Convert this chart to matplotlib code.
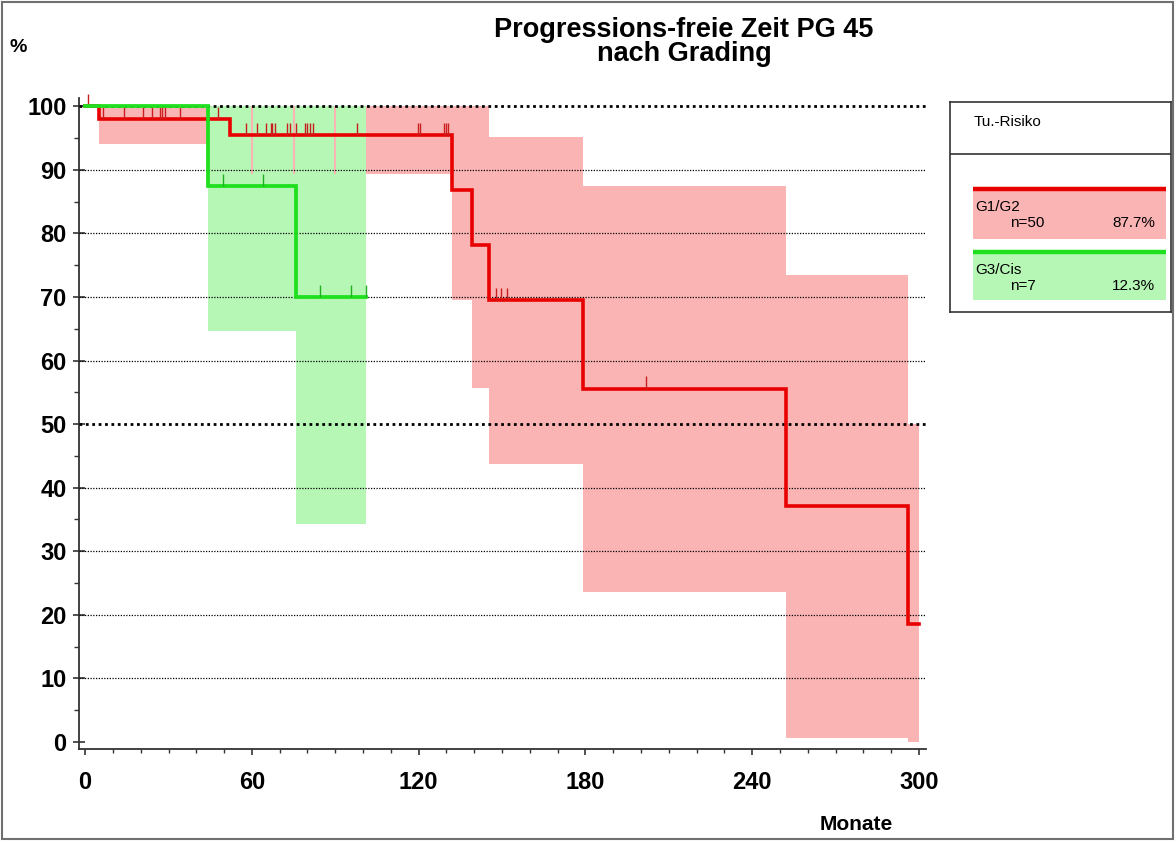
import numpy as np
import matplotlib
matplotlib.use("Agg")
import matplotlib.pyplot as plt
from matplotlib.patches import Rectangle
from matplotlib.ticker import MultipleLocator

plt.rcParams['font.family'] = ['Liberation Sans', 'DejaVu Sans']

# ---------------- data ----------------
title_line1 = "Progressions-freie Zeit PG 45"
title_line2 = "nach Grading"
x_ticks = [0, 60, 120, 180, 240, 300]
y_ticks = [0, 10, 20, 30, 40, 50, 60, 70, 80, 90, 100]

# G1/G2 Kaplan-Meier steps (months, %)
red_t = [0, 5, 52.1, 132, 139, 145.3, 179, 252.1, 296.2, 300]
red_s = [100, 98, 95.5, 86.9, 78.1, 69.5, 55.6, 37.1, 18.6, 18.6]
# confidence band steps
red_ci_t = [5, 52.1, 132, 139, 145.3, 179, 252.1, 296.2, 300]
red_ci_lo = [94.1, 89.3, 69.5, 55.7, 43.8, 23.6, 0.6, 0.0]
red_ci_hi = [100, 100, 100, 100, 95.1, 87.4, 73.4, 50.0]
red_censor = [1, 6.6, 14.0, 20.9, 24.0, 26.9, 27.7, 28.7, 34.1, 47.9,
              57.9, 61.9, 65.0, 66.7, 67.4, 68.4, 72.7, 73.7, 75.8, 79.0,
              79.9, 80.9, 81.8, 97.8, 119.8, 120.6, 129.0, 129.7, 130.5,
              147.9, 149.7, 151.7, 201.8]
red_band_marks = [60, 75, 90]

# G3/Cis Kaplan-Meier steps
green_t = [0, 44.3, 76, 101.2]
green_s = [100, 87.5, 70, 70]
green_ci_t = [44.3, 76, 101.2]
green_ci_lo = [64.6, 34.3]
green_ci_hi = [100, 100]
green_censor = [49.7, 64.1, 84.4, 95.8, 100.9]

legend_groups = ["G1/G2", "G3/Cis"]
legend_n = ["n=50", "n=7"]
legend_pct = ["87.7%", "12.3%"]

# ---------------- style ----------------
RED = '#e80000'
PINK = '#fbb4b4'
GREEN = '#1ee01e'
LGREEN = '#b6f7b6'
RED_C = '#c81e1e'
GREEN_C = '#20b020'

W, H = 1176, 842
fig = plt.figure(figsize=(W / 100, H / 100), dpi=100)
fig.patch.set_facecolor('white')

def fx(px):
    return px / W

def fy(py):
    return 1 - py / H

ax = fig.add_axes([fx(79), fy(749), fx(926) - fx(79), fy(98) - fy(749)])
ax.set_xlim(-2.2, 302.5)
ax.set_ylim(-1.1, 101.3)


def band(ax, ts, lo, hi, color, z):
    for i in range(len(lo)):
        ax.add_patch(Rectangle((ts[i], lo[i]), ts[i + 1] - ts[i], hi[i] - lo[i],
                               facecolor=color, edgecolor='none', zorder=z))

band(ax, red_ci_t, red_ci_lo, red_ci_hi, PINK, 1)
band(ax, green_ci_t, green_ci_lo, green_ci_hi, LGREEN, 2)
ax.vlines(red_band_marks, red_ci_lo[1], 100, color=PINK, lw=1.5, zorder=2.5)

# gridlines
for yv in range(10, 100, 10):
    if yv == 50:
        continue
    ax.axhline(yv, color='black', lw=0.9, ls=(0, (1, 1.2)), zorder=3)
for yv in (50, 100):
    ax.axhline(yv, color='black', lw=2.0, ls=(0, (1, 1.3)), zorder=3)

# KM curves
ax.step(red_t, red_s, where='post', color=RED, lw=2.6, zorder=5, solid_joinstyle='miter')
ax.step(green_t, green_s, where='post', color=GREEN, lw=2.7, zorder=6, solid_joinstyle='miter')


def surv_at(ts, ss, t):
    i = np.searchsorted(ts, t, side='right') - 1
    return ss[max(i, 0)]

rc_y = [surv_at(red_t, red_s, t) for t in red_censor]
gc_y = [surv_at(green_t, green_s, t) for t in green_censor]
ax.vlines(red_censor, rc_y, np.array(rc_y) + 1.9, color=RED_C, lw=1.0, zorder=5.5, clip_on=False)
ax.vlines(green_censor, gc_y, np.array(gc_y) + 1.9, color=GREEN_C, lw=1.0, zorder=6.5, clip_on=False)

# axes
for s in ('top', 'right'):
    ax.spines[s].set_visible(False)
for s in ('left', 'bottom'):
    ax.spines[s].set_color('#333333')
    ax.spines[s].set_linewidth(1.3)
ax.set_xticks(x_ticks)
ax.set_yticks(y_ticks)
ax.xaxis.set_minor_locator(MultipleLocator(10))
ax.yaxis.set_minor_locator(MultipleLocator(5))
ax.tick_params(axis='x', which='major', direction='out', length=4, width=1.2, pad=12,
               labelsize=17, colors='#333333', labelcolor='black')
ax.tick_params(axis='x', which='minor', direction='out', length=3, width=1.0, colors='#333333')
ax.tick_params(axis='y', which='major', direction='inout', length=8, width=1.2, pad=5,
               labelsize=17, colors='#333333', labelcolor='black')
ax.tick_params(axis='y', which='minor', direction='out', length=3.5, width=1.0, colors='#333333')
for lab in ax.get_xticklabels() + ax.get_yticklabels():
    lab.set_fontweight('bold')

# titles and axis labels
fig.text(fx(684), fy(42), title_line1 + "\n" + title_line2, ha='center', va='center',
         multialignment='center', linespacing=0.88, fontsize=19.5, fontweight='bold')
fig.text(fx(18), fy(48), "%", ha='center', va='center', fontsize=14, fontweight='bold')
fig.text(fx(856), fy(825), "Monate", ha='center', va='center', fontsize=15, fontweight='bold')

# legend box
lax = fig.add_axes([fx(950), fy(312), fx(1171) - fx(950), fy(102) - fy(312)])
lax.set_xlim(950, 1171)
lax.set_ylim(312, 102)
lax.set_xticks([])
lax.set_yticks([])
for s in lax.spines.values():
    s.set_color('#333333')
    s.set_linewidth(1.2)
lax.axhline(154, color='#333333', lw=1.2)
lax.text(974, 122, "Tu.-Risiko", ha='left', va='center', fontsize=11)

entries_y = [189, 252]
entry_h = [50, 48]
line_cols = [RED, GREEN]
fill_cols = [PINK, LGREEN]
for i in range(len(legend_groups)):
    y0 = entries_y[i]
    lax.add_patch(Rectangle((973, y0), 193, entry_h[i], facecolor=fill_cols[i], edgecolor='none'))
    lax.plot([973, 1166], [y0, y0], color=line_cols[i], lw=3.2, solid_capstyle='butt')
    lax.text(975, y0 + 18, legend_groups[i], ha='left', va='center', fontsize=11)
    lax.text(1010, y0 + 34, legend_n[i], ha='left', va='center', fontsize=11)
    lax.text(1155, y0 + 34, legend_pct[i], ha='right', va='center', fontsize=11)

# outer frame
fig.patches.append(Rectangle((fx(2), fy(839)), fx(1173) - fx(2), fy(2) - fy(839),
                             transform=fig.transFigure, fill=False,
                             edgecolor='#707070', lw=1.5))

fig.savefig("out.png", dpi=100, facecolor='white')
